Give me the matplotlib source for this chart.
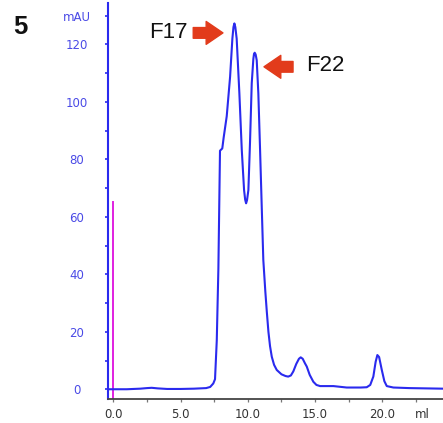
import matplotlib
matplotlib.use("Agg")
import matplotlib.pyplot as plt

# Chromatogram trace (ml, mAU)
volume_ml = [-0.4, 0.0, 1.0, 2.0, 2.5, 2.85, 3.3, 4.0, 5.0, 6.0, 6.9, 7.2, 7.43, 7.56,
             7.69, 7.81, 7.88, 7.93, 8.1, 8.2, 8.43, 8.68, 8.85, 8.93, 9.0, 9.07, 9.17,
             9.37, 9.55, 9.72, 9.8, 9.87, 9.94, 10.04, 10.16, 10.29, 10.41, 10.46, 10.51,
             10.58, 10.66, 10.78, 10.91, 11.03, 11.15, 11.3, 11.41, 11.53, 11.65, 11.78,
             11.95, 12.15, 12.5, 12.8, 13.0, 13.2, 13.38, 13.6, 13.8, 13.93, 14.08, 14.25,
             14.38, 14.6, 14.87, 15.1, 15.37, 16.36, 17.35, 18.4, 18.84, 19.1, 19.33, 19.5,
             19.63, 19.76, 19.96, 20.15, 20.33, 20.82, 22.0, 24.5]
absorbance_mau = [0.0, 0.0, 0.0, 0.2, 0.4, 0.5, 0.3, 0.1, 0.1, 0.2, 0.4, 0.8, 2.0, 3.5,
                  17.0, 42.0, 66.0, 83.0, 83.8, 87.5, 95.0, 108.7, 122.0, 126.0, 127.3, 126.0, 122.0,
                  103.0, 83.2, 69.3, 66.0, 64.7, 65.8, 69.3, 85.7, 106.5, 115.0, 116.7, 117.1,
                  116.5, 114.5, 103.0, 83.2, 64.0, 45.0, 34.0, 27.0, 20.0, 15.0, 11.3,
                  8.5, 6.7, 5.2, 4.6, 4.4, 4.8, 6.2, 8.8, 10.6, 11.1, 10.6, 9.0,
                  7.9, 5.0, 2.6, 1.5, 1.1, 1.1, 0.6, 0.6, 0.7, 1.5, 4.4, 9.5,
                  11.9, 11.2, 6.7, 2.8, 1.1, 0.6, 0.4, 0.2]

# Injection marker
inject_ml = [0.0, 0.0]
inject_mau = [-3.4, 65.0]

y_ticks = [0, 20, 40, 60, 80, 100, 120, 130]
y_tick_labels = ["0", "20", "40", "60", "80", "100", "120", "mAU"]
y_minor = [10, 30, 50, 70, 90, 110]
x_ticks = [0.0, 5.0, 10.0, 15.0, 20.0]
x_tick_labels = ["0.0", "5.0", "10.0", "15.0", "20.0"]
x_minor = [2.5, 7.5, 12.5, 17.5, 22.5]
x_unit = "ml"

peak_labels = ["F17", "F22"]

blue = "#2a2aee"
label_blue = "#4a4ae6"
red = "#e23b1b"

fig = plt.figure(figsize=(4.43, 4.23), dpi=100)
ax = fig.add_axes([0.2431, 0.0567, 0.7569, 0.9355])

ax.plot(volume_ml, absorbance_mau, color=blue, lw=1.5, solid_joinstyle="round", zorder=3)
ax.plot(inject_ml, inject_mau, color="#e020e0", lw=1.4, zorder=2)

ax.set_xlim(-0.42, 24.51)
ax.set_ylim(-3.4, 134.3)

for s in ["top", "right"]:
    ax.spines[s].set_visible(False)
ax.spines["left"].set_color(blue)
ax.spines["left"].set_linewidth(1.5)
ax.spines["bottom"].set_color("#444444")
ax.spines["bottom"].set_linewidth(1.3)

ax.set_yticks(y_ticks)
ax.set_yticklabels(y_tick_labels)
ax.set_yticks(y_minor, minor=True)
ax.set_xticks(x_ticks)
ax.set_xticklabels(x_tick_labels)
ax.set_xticks(x_minor, minor=True)

ax.tick_params(axis="y", which="both", direction="out", length=2.5, width=1.2,
               color=blue, labelcolor=label_blue, labelsize=8.5, pad=19.6)
for lab in ax.get_yticklabels():
    lab.set_horizontalalignment("center")
ax.tick_params(axis="x", which="both", direction="out", length=2.2, width=0.9,
               color="#777777", labelcolor="#333333", labelsize=8.5, pad=4)

ax.annotate(x_unit, xy=(23.0, 0), xycoords=("data", "axes fraction"),
            xytext=(0, -6.2), textcoords="offset points", ha="center", va="top",
            fontsize=8.5, color="#333333", annotation_clip=False)

# Peak annotations
ax.text(4.12, 124.3, peak_labels[0], fontsize=16, family="Liberation Sans",
        ha="center", va="center", color="#111111")
ax.text(15.74, 112.5, peak_labels[1], fontsize=16, family="Liberation Sans",
        ha="center", va="center", color="#111111")
arrow_style = "simple,head_length=1.1,head_width=1.5,tail_width=0.7"
ax.annotate("", xy=(8.15, 124.0), xytext=(5.94, 124.0),
            arrowprops=dict(arrowstyle=arrow_style, mutation_scale=11, color=red,
                            shrinkA=0, shrinkB=0))
ax.annotate("", xy=(11.2, 112.2), xytext=(13.36, 112.2),
            arrowprops=dict(arrowstyle=arrow_style, mutation_scale=11, color=red,
                            shrinkA=0, shrinkB=0))

fig.text(0.0463, 0.935, "5", fontsize=18.5, fontweight="bold", family="Liberation Sans",
         ha="center", va="center", color="#111111")

fig.savefig("out.png", dpi=100)
